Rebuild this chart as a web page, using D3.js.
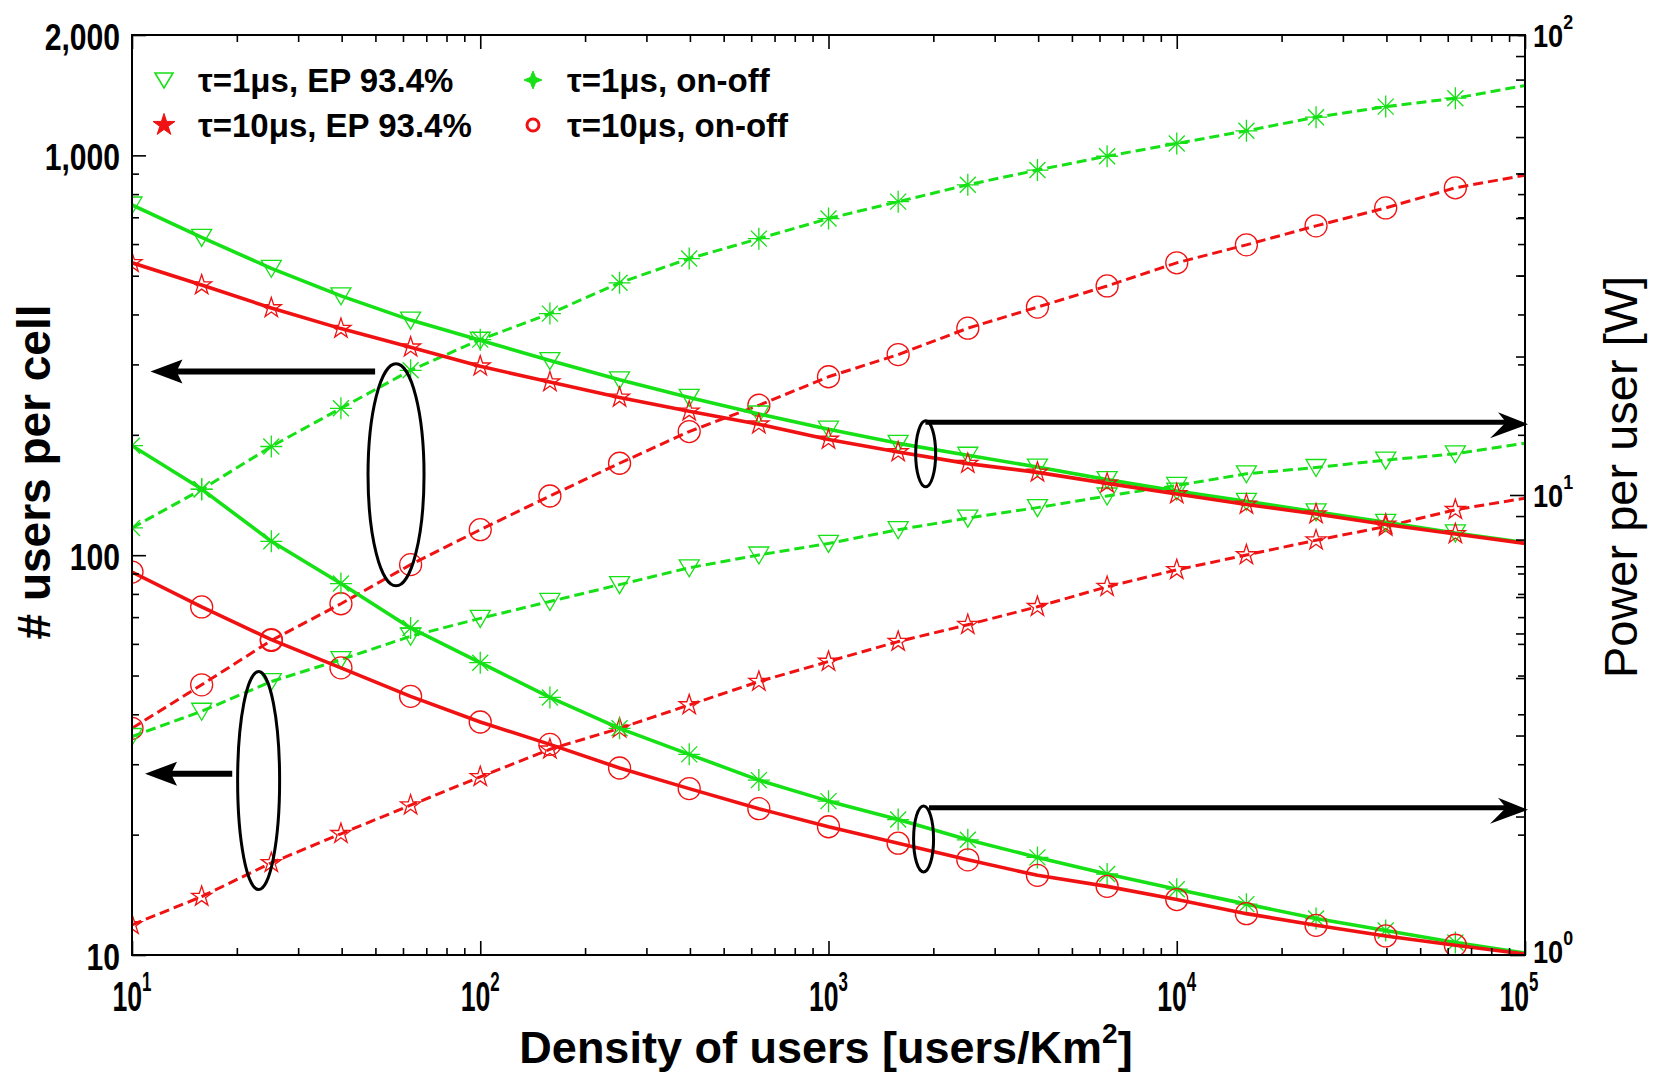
<!DOCTYPE html>
<html><head><meta charset="utf-8">
<script src="https://cdn.jsdelivr.net/npm/d3@7"></script>
<style>body{margin:0;background:#fff;} svg{display:block;}</style>
</head><body>
<svg id="chart" width="1655" height="1079"></svg>
<script>
// ---------------- DATA ----------------
const density = [10, 15.85, 25.12, 39.81, 63.1, 100, 158.5, 251.2, 398.1, 631, 1000,
                 1585, 2512, 3981, 6310, 10000, 15850, 25120, 39810, 63100, 100000];
// left axis: # users per cell
const usersOnOff1  = [117, 146, 187, 233, 290, 346, 402, 480, 552, 619, 695, 766, 844, 919, 995, 1071, 1152, 1246, 1324, 1390, 1495];
const usersOnOff10 = [36.9, 47.4, 61.2, 75.6, 94.7, 115.8, 140.6, 169.8, 203.8, 237.1, 279.4, 317.5, 369.6, 417.3, 471.4, 538.6, 597.3, 666.4, 738.9, 829.6, 892.1];
const usersEP1     = [35.2, 40.7, 48.3, 54.8, 62.7, 69.5, 76.6, 84.4, 93.0, 100.1, 107.0, 115.8, 123.8, 131.5, 140.6, 149.4, 159.8, 165.7, 172.9, 179.3, 190.5];
const usersEP10    = [11.9, 14.0, 17.0, 20.1, 23.7, 27.9, 32.7, 36.9, 42.2, 48.3, 54.2, 60.8, 67.0, 74.3, 83.4, 91.9, 100.1, 109.0, 117.9, 129.9, 138.9];
// right axis: power per user [W]
const powerEP1     = [42.7, 36.3, 31.1, 27.1, 24.0, 21.7, 19.6, 17.8, 16.3, 15.0, 13.9, 12.95, 12.2, 11.5, 10.8, 10.2, 9.69, 9.19, 8.72, 8.27, 7.88];
const powerEP10    = [31.97, 28.6, 25.5, 23.0, 20.95, 19.05, 17.6, 16.3, 15.2, 14.25, 13.2, 12.4, 11.7, 11.2, 10.6, 10.05, 9.54, 9.09, 8.63, 8.23, 7.85];
const powerOnOff1  = [12.8, 10.3, 7.93, 6.42, 5.14, 4.32, 3.63, 3.11, 2.73, 2.40, 2.16, 1.97, 1.78, 1.63, 1.50, 1.39, 1.29, 1.20, 1.13, 1.065, 1.01];
const powerOnOff10 = [6.80, 5.71, 4.85, 4.21, 3.65, 3.21, 2.87, 2.55, 2.30, 2.08, 1.90, 1.75, 1.61, 1.49, 1.41, 1.32, 1.23, 1.16, 1.10, 1.05, 1.005];

const legendLabels = ['τ=1μs, EP 93.4%', 'τ=1μs, on-off', 'τ=10μs, EP 93.4%', 'τ=10μs, on-off'];
const leftTickLabels = [[10, '10'], [100, '100'], [1000, '1,000'], [2000, '2,000']];
const rightTickExps = [0, 1, 2];
const xTickExps = [1, 2, 3, 4, 5];
const xTitle = 'Density of users [users/Km';
const yLeftTitle = '# users per cell';
const yRightTitle = 'Power per user [W]';

// annotation anchors (data units)
const leftEllipses  = [{x: 57.3, v: 158.8}, {x: 23.1, v: 27.3}];
const leftArrows    = [{x0: 49.9, x1: 11.3, v: 288}, {x0: 19.4, x1: 10.9, v: 28.4}];
const rightEllipses = [{x: 1901, v: 12.29}, {x: 1875, v: 1.788}];
const rightArrows   = [{x0: 1898, x1: 102000, v: 14.4}, {x0: 1944, x1: 102000, v: 2.09}];

// ---------------- SETUP ----------------
const GREEN = '#16e016', RED = '#f01212';
const FONT = '"Liberation Sans", Arial, Helvetica, sans-serif';
const M = {left: 132, right: 1525, top: 35, bottom: 955};
const svg = d3.select('#chart');
const x  = d3.scaleLog().domain([10, 1e5]).range([M.left, M.right]);
const yL = d3.scaleLog().domain([10, 2000]).range([M.bottom, M.top]);
const yR = d3.scaleLog().domain([1, 100]).range([M.bottom, M.top]);

const series = [
  {values: usersOnOff1,  y: yL, color: GREEN, dash: true,  marker: 'asterisk'},
  {values: usersOnOff10, y: yL, color: RED,   dash: true,  marker: 'circle'},
  {values: usersEP1,     y: yL, color: GREEN, dash: true,  marker: 'tri'},
  {values: usersEP10,    y: yL, color: RED,   dash: true,  marker: 'star'},
  {values: powerEP1,     y: yR, color: GREEN, dash: false, marker: 'tri'},
  {values: powerEP10,    y: yR, color: RED,   dash: false, marker: 'star'},
  {values: powerOnOff1,  y: yR, color: GREEN, dash: false, marker: 'asterisk'},
  {values: powerOnOff10, y: yR, color: RED,   dash: false, marker: 'circle'}
];

const markerPath = {
  tri: 'M-10,-8L10,-8L0,9Z',
  star: d3.symbol(d3.symbolStar, 125)(),
  circle: d3.symbol(d3.symbolCircle, Math.PI * 11 * 11)(),
  asterisk: 'M-11,0H11M0,-11V11M-8,-8L8,8M-8,8L8,-8'
};

// clip
svg.append('defs').append('clipPath').attr('id', 'plotclip')
  .append('rect').attr('x', M.left).attr('y', M.top)
  .attr('width', M.right - M.left).attr('height', M.bottom - M.top);

const plot = svg.append('g').attr('clip-path', 'url(#plotclip)');

series.forEach(s => {
  const pts = density.map((d, i) => ({x: d, v: s.values[i]}));
  const line = d3.line().x(d => x(d.x)).y(d => s.y(d.v));
  plot.append('path').datum(pts)
    .attr('d', line).attr('fill', 'none').attr('stroke', s.color)
    .attr('stroke-width', s.dash ? 3 : 3.6)
    .attr('stroke-dasharray', s.dash ? '10,5' : null)
    .attr('stroke-linejoin', 'round');
  plot.selectAll(null).data(pts.filter(d => d.x < 1e5)).enter().append('path')
    .attr('d', markerPath[s.marker])
    .attr('transform', d => `translate(${x(d.x)},${s.y(d.v)})`)
    .attr('fill', 'none').attr('stroke', s.color).attr('stroke-width', 1.3);
});

// ---------------- AXES ----------------
const axG = svg.append('g');
function ticks(axisFn, scale, values, size, tx, ty) {
  const g = axG.append('g').attr('transform', `translate(${tx},${ty})`)
    .call(axisFn(scale).tickValues(values).tickSize(size).tickFormat(''));
  g.select('.domain').remove();
  g.selectAll('line').attr('stroke', '#000').attr('stroke-width', 1.6);
}
const isMajor = v => Math.abs(Math.log10(v) - Math.round(Math.log10(v))) < 1e-6;
const xT = x.ticks(), lT = yL.ticks(), rT = yR.ticks();
ticks(d3.axisBottom, x, xT.filter(v => !isMajor(v)), -7, 0, M.bottom);
ticks(d3.axisBottom, x, xT.filter(isMajor), -14, 0, M.bottom);
ticks(d3.axisTop, x, xT.filter(v => !isMajor(v)), -7, 0, M.top);
ticks(d3.axisTop, x, xT.filter(isMajor), -14, 0, M.top);
ticks(d3.axisLeft, yL, lT.filter(v => !isMajor(v) && v !== 2000), -7, M.left, 0);
ticks(d3.axisLeft, yL, lT.filter(v => isMajor(v) || v === 2000), -14, M.left, 0);
ticks(d3.axisRight, yL, lT.filter(v => !isMajor(v)), -7, M.right, 0);
ticks(d3.axisRight, yR, rT.filter(v => !isMajor(v)), -9, M.right, 0);
ticks(d3.axisRight, yR, rT.filter(isMajor), -15, M.right, 0);

svg.append('rect').attr('x', M.left).attr('y', M.top)
  .attr('width', M.right - M.left).attr('height', M.bottom - M.top)
  .attr('fill', 'none').attr('stroke', '#000').attr('stroke-width', 2);

// tick labels
leftTickLabels.forEach(([v, t]) => {
  svg.append('g').attr('transform', `translate(${M.left - 12},${yL(v) + 2}) scale(0.86,1.05)`)
    .append('text').attr('text-anchor', 'end').attr('dominant-baseline', 'central')
    .attr('font-family', FONT).attr('font-weight', 'bold').attr('font-size', 35).text(t);
});
rightTickExps.forEach(e => {
  const t = svg.append('g').attr('transform', `translate(${M.right + 8},${yR(Math.pow(10, e)) - (e === 0 ? 4 : 0)}) scale(0.85,1)`)
    .append('text').attr('dominant-baseline', 'central')
    .attr('font-family', FONT).attr('font-weight', 'bold').attr('font-size', 32);
  t.append('tspan').text('10');
  t.append('tspan').attr('font-size', 21).attr('dy', -14).text(e);
});
xTickExps.forEach(e => {
  const t = svg.append('g').attr('transform', `translate(${x(Math.pow(10, e)) - (e === 5 ? 6 : 0)},1011) scale(0.65,1.05)`)
    .append('text').attr('text-anchor', 'middle')
    .attr('font-family', FONT).attr('font-weight', 'bold').attr('font-size', 41);
  t.append('tspan').text('10');
  t.append('tspan').attr('font-size', 26).attr('dy', -19).text(e);
});

// axis titles
const xt = svg.append('text').attr('x', 826).attr('y', 1063).attr('text-anchor', 'middle')
  .attr('font-family', FONT).attr('font-weight', 'bold').attr('font-size', 45);
xt.append('tspan').text(xTitle);
xt.append('tspan').attr('font-size', 28).attr('dy', -20).text('2');
xt.append('tspan').attr('dy', 20).text(']');

svg.append('text').attr('transform', 'translate(34,472) rotate(-90)')
  .attr('text-anchor', 'middle').attr('dominant-baseline', 'central')
  .attr('font-family', FONT).attr('font-weight', 'bold').attr('font-size', 46).text(yLeftTitle);
svg.append('text').attr('transform', 'translate(1620,477) rotate(-90)')
  .attr('text-anchor', 'middle').attr('dominant-baseline', 'central')
  .attr('font-family', FONT).attr('font-size', 47).text(yRightTitle);

// ---------------- LEGEND ----------------
const legendPos = [[164, 80], [533, 80], [164, 125], [533, 125]];
const legendMarks = [
  {p: 'M-9,-7L9,-7L0,8Z', fill: 'none', stroke: GREEN, sw: 1.6},
  {p: 'M0,-9L2.6,-2.6L9,0L2.6,2.6L0,9L-2.6,2.6L-9,0L-2.6,-2.6Z', fill: GREEN, stroke: GREEN, sw: 1},
  {p: d3.symbol(d3.symbolStar, 150)(), fill: RED, stroke: RED, sw: 1},
  {p: d3.symbol(d3.symbolCircle, Math.PI * 36)(), fill: 'none', stroke: RED, sw: 3}
];
legendLabels.forEach((lab, i) => {
  const [lx, ly] = legendPos[i];
  svg.append('path').attr('d', legendMarks[i].p).attr('transform', `translate(${lx},${ly})`)
    .attr('fill', legendMarks[i].fill).attr('stroke', legendMarks[i].stroke)
    .attr('stroke-width', legendMarks[i].sw);
  svg.append('text').attr('x', lx + 34).attr('y', ly).attr('dominant-baseline', 'central')
    .attr('font-family', FONT).attr('font-weight', 'bold').attr('font-size', 33).text(lab);
});

// ---------------- ANNOTATIONS ----------------
const ann = svg.append('g');
leftEllipses.forEach((e, i) => {
  ann.append('ellipse').attr('cx', x(e.x)).attr('cy', yL(e.v))
    .attr('rx', i === 0 ? 28 : 21).attr('ry', i === 0 ? 111 : 109)
    .attr('fill', 'none').attr('stroke', '#000').attr('stroke-width', 3);
});
rightEllipses.forEach(e => {
  ann.append('ellipse').attr('cx', x(e.x)).attr('cy', yR(e.v))
    .attr('rx', 10).attr('ry', 33)
    .attr('fill', 'none').attr('stroke', '#000').attr('stroke-width', 3);
});
leftArrows.forEach(a => {
  const x0 = x(a.x0), x1 = x(a.x1), yy = yL(a.v);
  ann.append('line').attr('x1', x0).attr('x2', x1 + 25).attr('y1', yy).attr('y2', yy)
    .attr('stroke', '#000').attr('stroke-width', 6);
  ann.append('path').attr('d', `M${x1},${yy}L${x1 + 32},${yy - 12}L${x1 + 26},${yy}L${x1 + 32},${yy + 12}Z`)
    .attr('fill', '#000');
});
rightArrows.forEach(a => {
  const x0 = x(a.x0), x1 = x(a.x1), yy = yR(a.v);
  ann.append('line').attr('x1', x0).attr('x2', x1 - 20).attr('y1', yy).attr('y2', yy)
    .attr('stroke', '#000').attr('stroke-width', 5);
  ann.append('path').attr('d', `M${x1},${yy + 2}L${x1 - 30},${yy - 10}L${x1 - 22},${yy}L${x1 - 38},${yy + 16}Z`)
    .attr('fill', '#000');
});
</script>
</body></html>
